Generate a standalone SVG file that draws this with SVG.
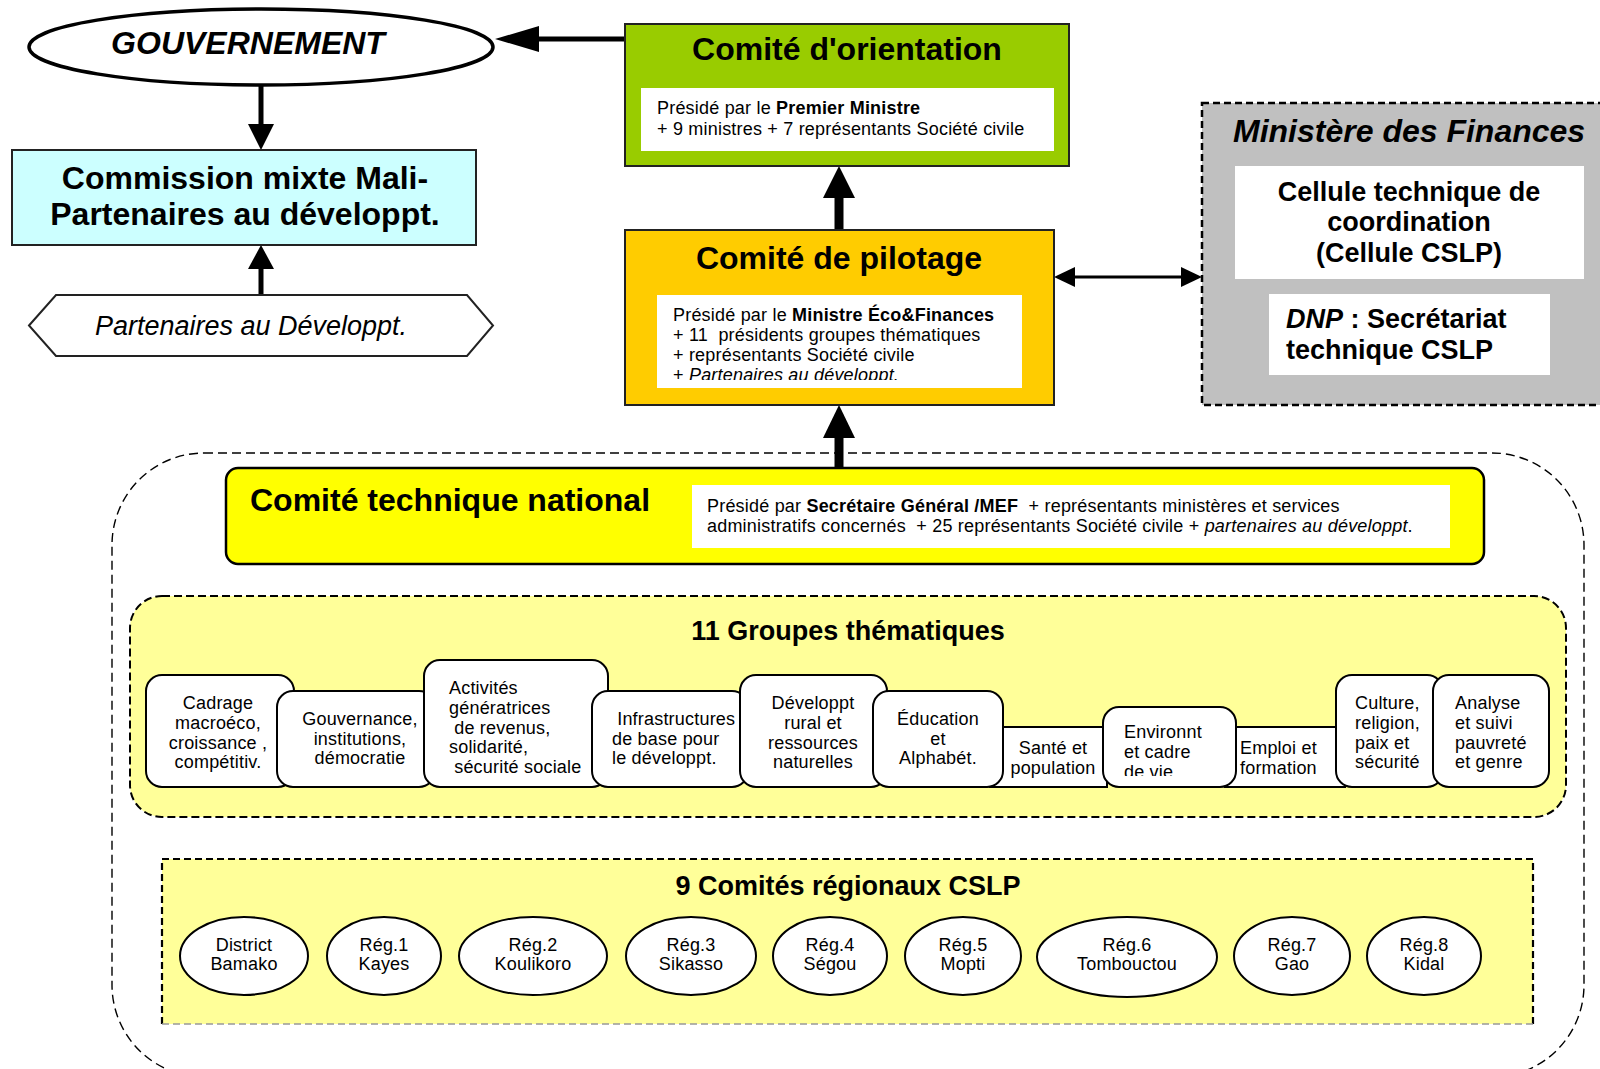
<svg xmlns="http://www.w3.org/2000/svg" width="1600" height="1069" viewBox="0 0 1600 1069">
  <style>
    text { font-family: "Liberation Sans", Arial, sans-serif; fill: #000; }
    .title { font-size: 32px; font-weight: bold; }
    .sub { font-size: 27px; font-weight: bold; }
    .small { font-size: 18px; letter-spacing: 0.2px; }
    .b { font-weight: bold; }
    .i { font-style: italic; }
    .mid { text-anchor: middle; }
    .panel { stroke: #222; stroke-width: 2; }
    .inner { fill: #fff; stroke: none; }
    .grp { fill: #fff; stroke: #000; stroke-width: 2; }
    .reg { fill: #fff; stroke: #000; stroke-width: 2; }
    .conn { stroke: #000; fill: none; }
    .head { fill: #000; stroke: none; }
  </style>
  <defs>
    <clipPath id="clipPilot"><rect x="657" y="294" width="365" height="86"/></clipPath>
    <clipPath id="clipEnv"><rect x="1103" y="700" width="133" height="76"/></clipPath>
  </defs>

  <rect width="1600" height="1069" fill="#fff"/>

  <!-- national frame (dashed outline around CTN, groups and regions) -->
  <g id="cadre-national">
    <rect x="112" y="453" width="1472" height="624" rx="92" ry="92" fill="none" stroke="#000" stroke-width="1.4" stroke-dasharray="9 5"/>
  </g>

  <!-- connectors -->
  <g id="connectors">
    <!-- Comité d'orientation -> Gouvernement -->
    <line class="conn" x1="625" y1="39" x2="535" y2="39" stroke-width="5"/>
    <polygon class="head" points="495,39 539,26 539,52"/>
    <!-- Gouvernement -> Commission mixte -->
    <line class="conn" x1="261" y1="86" x2="261" y2="128" stroke-width="5"/>
    <polygon class="head" points="261,150 248,124 274,124"/>
    <!-- Partenaires -> Commission mixte -->
    <line class="conn" x1="261" y1="295" x2="261" y2="265" stroke-width="5"/>
    <polygon class="head" points="261,245 248,269 274,269"/>
    <!-- Comité de pilotage -> Comité d'orientation -->
    <line class="conn" x1="839" y1="231" x2="839" y2="195" stroke-width="9"/>
    <polygon class="head" points="839,166 823,198 855,198"/>
    <!-- Comité technique national -> Comité de pilotage -->
    <line class="conn" x1="839" y1="469" x2="839" y2="434" stroke-width="9"/>
    <polygon class="head" points="839,405 823,438 855,438"/>
    <!-- Comité de pilotage <-> Ministère des Finances -->
    <line class="conn" x1="1070" y1="277" x2="1186" y2="277" stroke-width="3"/>
    <polygon class="head" points="1054,277 1075,267 1075,287"/>
    <polygon class="head" points="1202,277 1181,267 1181,287"/>
  </g>

  <!-- GOUVERNEMENT -->
  <g id="gouvernement">
    <ellipse cx="261" cy="47" rx="232" ry="38" fill="#fff" stroke="#000" stroke-width="3.5"/>
    <text class="title i mid" x="248" y="54">GOUVERNEMENT</text>
  </g>

  <!-- Commission mixte -->
  <g id="commission-mixte">
    <rect x="12" y="150" width="464" height="95" fill="#CCFFFF" stroke="#222" stroke-width="2"/>
    <text class="title mid" x="245" y="189">Commission mixte Mali-</text>
    <text class="title mid" x="245" y="225">Partenaires au développt.</text>
  </g>

  <!-- Partenaires au Développement -->
  <g id="partenaires">
    <polygon points="29,325.5 56,295 467,295 493,325.5 467,356 56,356" fill="#fff" stroke="#222" stroke-width="2"/>
    <text class="i mid" x="251" y="335" font-size="27">Partenaires au Développt.</text>
  </g>

  <!-- Comité d'orientation -->
  <g id="comite-orientation">
    <rect class="panel" x="625" y="24" width="444" height="142" fill="#99CC00"/>
    <text class="title mid" x="847" y="60">Comité d'orientation</text>
    <rect class="inner" x="641" y="88" width="413" height="63"/>
    <text class="small" x="657" y="114">Présidé par le <tspan class="b">Premier Ministre</tspan></text>
    <text class="small" x="657" y="135">+ 9 ministres + 7 représentants Société civile</text>
  </g>

  <!-- Comité de pilotage -->
  <g id="comite-pilotage">
    <rect class="panel" x="625" y="230" width="429" height="175" fill="#FFCC00"/>
    <text class="title mid" x="839" y="269">Comité de pilotage</text>
    <rect class="inner" x="657" y="295" width="365" height="93"/>
    <g clip-path="url(#clipPilot)">
      <text class="small" x="673" y="321">Présidé par le <tspan class="b">Ministre Éco&amp;Finances</tspan></text>
      <text class="small" x="673" y="341" xml:space="preserve">+ 11  présidents groupes thématiques</text>
      <text class="small" x="673" y="361">+ représentants Société civile</text>
      <text class="small" x="673" y="381">+ <tspan class="i">Partenaires au développt.</tspan></text>
    </g>
  </g>

  <!-- Ministère des Finances -->
  <g id="ministere-finances">
    <rect x="1202" y="103" width="420" height="302" fill="#C0C0C0" stroke="#000" stroke-width="2.5" stroke-dasharray="7 4"/>
    <text class="title i" x="1233" y="142">Ministère des Finances</text>
    <rect class="inner" x="1235" y="166" width="349" height="113"/>
    <text class="mid b" font-size="27" x="1409" y="201">Cellule technique de</text>
    <text class="mid b" font-size="27" x="1409" y="231">coordination</text>
    <text class="mid b" font-size="27" x="1409" y="262">(Cellule CSLP)</text>
    <rect class="inner" x="1269" y="294" width="281" height="81"/>
    <text class="b" font-size="27" x="1286" y="328"><tspan class="i">DNP</tspan> : Secrétariat</text>
    <text class="b" font-size="27" x="1286" y="359">technique CSLP</text>
  </g>

  <!-- Comité technique national -->
  <g id="comite-technique-national">
    <rect x="226" y="468" width="1258" height="96" rx="12" ry="12" fill="#FFFF00" stroke="#000" stroke-width="2.5"/>
    <text class="title" x="250" y="511">Comité technique national</text>
    <rect class="inner" x="692" y="485" width="758" height="63"/>
    <text class="small" x="707" y="512" xml:space="preserve">Présidé par <tspan class="b">Secrétaire Général /MEF</tspan>  + représentants ministères et services</text>
    <text class="small" x="707" y="532" xml:space="preserve">administratifs concernés  + 25 représentants Société civile + <tspan class="i">partenaires au développt</tspan>.</text>
  </g>

  <!-- 11 thematic groups -->
  <g id="groupes-thematiques">
    <rect x="130" y="596" width="1436" height="221" rx="32" ry="32" fill="#FFFF99" stroke="#000" stroke-width="2" stroke-dasharray="8 4"/>
    <text class="sub mid" x="848" y="640">11 Groupes thématiques</text>
  </g>

  <g id="gt-cadrage">
    <rect class="grp" x="146" y="675" width="148" height="112" rx="16"/>
    <text class="small mid"><tspan x="218" y="709">Cadrage</tspan><tspan x="218" y="729">macroéco,</tspan><tspan x="218" y="748.5">croissance ,</tspan><tspan x="218" y="768">compétitiv.</tspan></text>
  </g>
  <g id="gt-gouvernance">
    <rect class="grp" x="277" y="691" width="158" height="96" rx="16"/>
    <text class="small mid"><tspan x="360" y="725">Gouvernance,</tspan><tspan x="360" y="744.5">institutions,</tspan><tspan x="360" y="764">démocratie</tspan></text>
  </g>
  <g id="gt-activites">
    <rect class="grp" x="424" y="660" width="184" height="127" rx="16"/>
    <text class="small" xml:space="preserve"><tspan x="449" y="694">Activités</tspan><tspan x="449" y="714">génératrices</tspan><tspan x="449" y="733.5"> de revenus,</tspan><tspan x="449" y="753">solidarité,</tspan><tspan x="449" y="773"> sécurité sociale</tspan></text>
  </g>
  <g id="gt-infrastructures">
    <rect class="grp" x="592" y="691" width="156" height="96" rx="16"/>
    <text class="small" xml:space="preserve"><tspan x="612" y="725"> Infrastructures</tspan><tspan x="612" y="744.5">de base pour</tspan><tspan x="612" y="764">le développt.</tspan></text>
  </g>
  <g id="gt-rural">
    <rect class="grp" x="740" y="675" width="147" height="112" rx="16"/>
    <text class="small mid"><tspan x="813" y="709">Développt</tspan><tspan x="813" y="729">rural et</tspan><tspan x="813" y="748.5">ressources</tspan><tspan x="813" y="768">naturelles</tspan></text>
  </g>
  <g id="gt-sante">
    <rect class="grp" x="990" y="727" width="117" height="60"/>
    <text class="small mid"><tspan x="1053" y="754">Santé et</tspan><tspan x="1053" y="774">population</tspan></text>
  </g>
  <g id="gt-education">
    <rect class="grp" x="873" y="691" width="130" height="96" rx="16"/>
    <text class="small mid"><tspan x="938" y="725">Éducation</tspan><tspan x="938" y="744.5">et</tspan><tspan x="938" y="764">Alphabét.</tspan></text>
  </g>
  <g id="gt-emploi">
    <rect class="grp" x="1225" y="727" width="120" height="60"/>
    <text class="small"><tspan x="1240" y="754">Emploi et</tspan><tspan x="1240" y="774">formation</tspan></text>
  </g>
  <g id="gt-environnement">
    <rect class="grp" x="1103" y="707" width="133" height="80" rx="16"/>
    <text class="small" clip-path="url(#clipEnv)"><tspan x="1124" y="738">Environnt</tspan><tspan x="1124" y="758">et cadre</tspan><tspan x="1124" y="777.5">de vie</tspan></text>
  </g>
  <g id="gt-culture">
    <rect class="grp" x="1336" y="675" width="107" height="112" rx="16"/>
    <text class="small"><tspan x="1355" y="709">Culture,</tspan><tspan x="1355" y="729">religion,</tspan><tspan x="1355" y="748.5">paix et</tspan><tspan x="1355" y="768">sécurité</tspan></text>
  </g>
  <g id="gt-pauvrete">
    <rect class="grp" x="1433" y="675" width="116" height="112" rx="16"/>
    <text class="small"><tspan x="1455" y="709">Analyse</tspan><tspan x="1455" y="729">et suivi</tspan><tspan x="1455" y="748.5">pauvreté</tspan><tspan x="1455" y="768">et genre</tspan></text>
  </g>

  <!-- 9 regional committees -->
  <g id="comites-regionaux">
    <rect x="162" y="859" width="1371" height="165" fill="#FFFF99"/>
    <path d="M162,1024 V859 H1533 V1024" fill="none" stroke="#000" stroke-width="2.2" stroke-dasharray="7 4"/>
    <path d="M162,1024 H1533" fill="none" stroke="#999" stroke-width="1.5" stroke-dasharray="7 4"/>
    <text class="sub mid" x="848" y="895">9 Comités régionaux CSLP</text>
  </g>
  <g id="reg-bamako">
    <ellipse class="reg" cx="244" cy="956" rx="64" ry="39"/>
    <text class="small mid"><tspan x="244" y="951">District</tspan><tspan x="244" y="970">Bamako</tspan></text>
  </g>
  <g id="reg-kayes">
    <ellipse class="reg" cx="384" cy="956" rx="57" ry="39"/>
    <text class="small mid"><tspan x="384" y="951">Rég.1</tspan><tspan x="384" y="970">Kayes</tspan></text>
  </g>
  <g id="reg-koulikoro">
    <ellipse class="reg" cx="533" cy="956" rx="74" ry="39"/>
    <text class="small mid"><tspan x="533" y="951">Rég.2</tspan><tspan x="533" y="970">Koulikoro</tspan></text>
  </g>
  <g id="reg-sikasso">
    <ellipse class="reg" cx="691" cy="956" rx="65" ry="39"/>
    <text class="small mid"><tspan x="691" y="951">Rég.3</tspan><tspan x="691" y="970">Sikasso</tspan></text>
  </g>
  <g id="reg-segou">
    <ellipse class="reg" cx="830" cy="956" rx="57" ry="39"/>
    <text class="small mid"><tspan x="830" y="951">Rég.4</tspan><tspan x="830" y="970">Ségou</tspan></text>
  </g>
  <g id="reg-mopti">
    <ellipse class="reg" cx="963" cy="956" rx="58" ry="39"/>
    <text class="small mid"><tspan x="963" y="951">Rég.5</tspan><tspan x="963" y="970">Mopti</tspan></text>
  </g>
  <g id="reg-tombouctou">
    <ellipse class="reg" cx="1127" cy="957" rx="90" ry="40"/>
    <text class="small mid"><tspan x="1127" y="951">Rég.6</tspan><tspan x="1127" y="970">Tombouctou</tspan></text>
  </g>
  <g id="reg-gao">
    <ellipse class="reg" cx="1292" cy="956" rx="58" ry="39"/>
    <text class="small mid"><tspan x="1292" y="951">Rég.7</tspan><tspan x="1292" y="970">Gao</tspan></text>
  </g>
  <g id="reg-kidal">
    <ellipse class="reg" cx="1424" cy="956" rx="57" ry="39"/>
    <text class="small mid"><tspan x="1424" y="951">Rég.8</tspan><tspan x="1424" y="970">Kidal</tspan></text>
  </g>
</svg>
